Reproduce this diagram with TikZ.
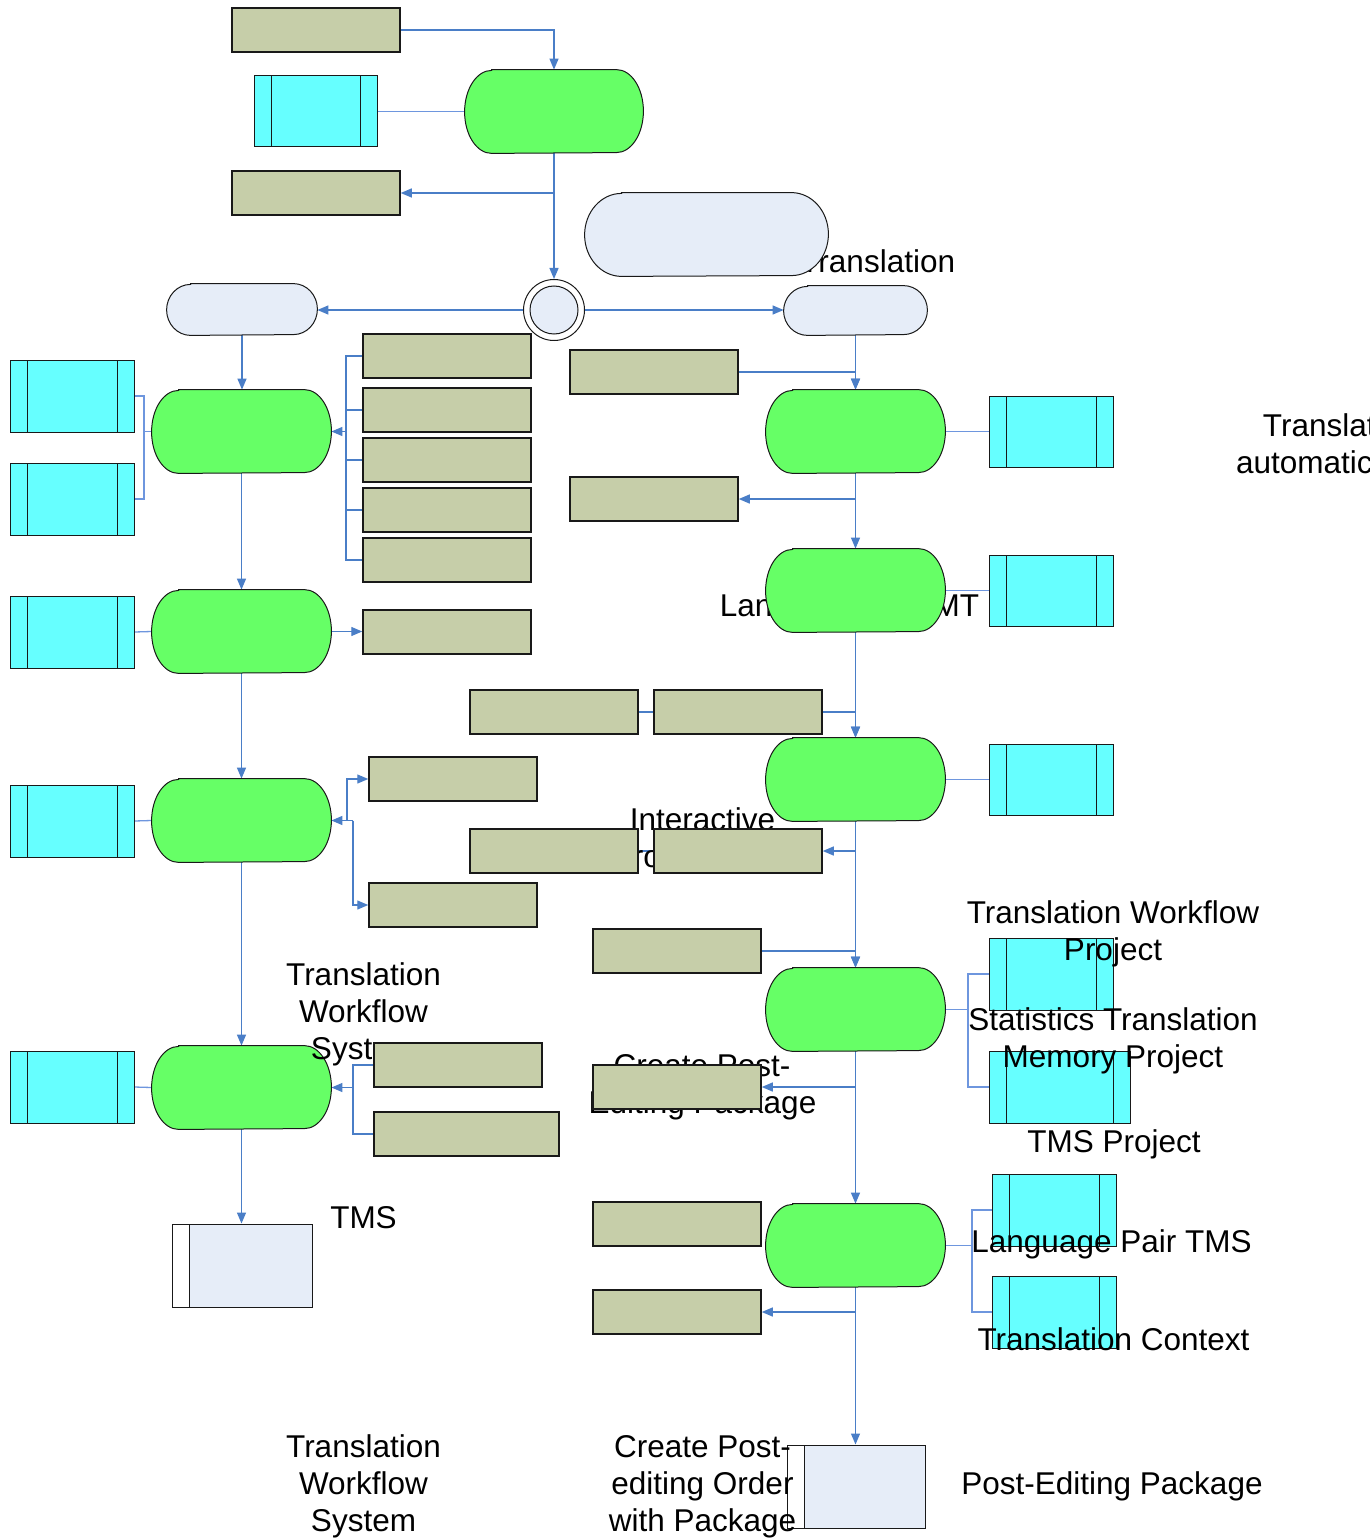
\documentclass[tikz,border=0pt]{standalone}
\usepackage{fontspec}
\setmainfont{Liberation Sans}
\usetikzlibrary{arrows.meta,fit,backgrounds}

\definecolor{tanfill}{RGB}{198,206,169}
\definecolor{cyanfill}{RGB}{102,255,255}
\definecolor{greenfill}{RGB}{102,255,102}
\definecolor{palefill}{RGB}{230,237,248}
\definecolor{outl}{RGB}{25,25,25}
\definecolor{connblue}{RGB}{74,126,199}
\definecolor{linkblue}{RGB}{110,150,222}

\tikzset{
  tanbox/.style={rectangle, draw=outl, line width=0.75pt, fill=tanfill, inner sep=0pt},
  cyanbox/.style={rectangle, draw=outl, line width=0.5pt, fill=cyanfill, inner sep=0pt,
    path picture={\draw[outl, line width=0.5pt]
      ([xshift=8.5pt]path picture bounding box.north west) -- ([xshift=8.5pt]path picture bounding box.south west)
      ([xshift=-8.5pt]path picture bounding box.north east) -- ([xshift=-8.5pt]path picture bounding box.south east);}},
  docbox/.style={rectangle, draw=outl, line width=0.5pt, fill=palefill, inner sep=0pt,
    path picture={\fill[white] (path picture bounding box.north west) rectangle ([xshift=8.5pt]path picture bounding box.south west);
      \draw[outl, line width=0.5pt] ([xshift=8.5pt]path picture bounding box.north west) -- ([xshift=8.5pt]path picture bounding box.south west);}},
  greenshape/.style={draw=outl, line width=0.5pt, fill=greenfill},
  paleshape/.style={draw=outl, line width=0.5pt, fill=palefill},
  conn/.style={draw=connblue, line width=0.65pt},
  arr/.style={conn, -{Triangle[length=5.5pt,width=4.5pt]}},
  link/.style={draw=linkblue, line width=0.65pt},
  lbl/.style={font=\fontsize{15.75pt}{18.5pt}\selectfont, inner sep=0pt, anchor=base},
}

% rectangular node given by its corners: style, name, x1, y1, x2, y2
\newcommand\rectnode[6]{\node[#1, fit={(#3,#4) (#5,#6)}] (#2) {};}
% process shape with elliptical ends: style, name, x1, y1, x2, y2, end radius
\newcommand\stadium[7]{%
  \node[inner sep=0pt, fit={(#3,#4) (#5,#6)}] (#2) {};
  \path[#1] ([xshift=#7*0.5pt]#2.north west) -- ([xshift=-#7*0.5pt]#2.north east)
    arc[start angle=90, end angle=-90, x radius=#7*0.5pt, y radius=(#6-#4)*0.25pt]
    -- ([xshift=#7*0.5pt]#2.south west)
    arc[start angle=270, end angle=90, x radius=#7*0.5pt, y radius=(#6-#4)*0.25pt] -- cycle;}

\begin{document}
\begin{tikzpicture}[x=0.5pt, y=-0.5pt]
\useasboundingbox (0,0) rectangle (1369,1540);
\clip (0,0) rectangle (1369,1540);

% ---- shapes, first group ----
\rectnode{tanbox}{T1}{232}{8}{400}{52}
\rectnode{cyanbox}{C1}{254}{76}{377}{147}
\stadium{greenshape}{G1}{465}{70}{643}{153}{27}
\rectnode{tanbox}{T2}{232}{171}{400}{215}
\node[circle, draw=outl, line width=0.5pt, fill=white, minimum size=30.5pt, inner sep=0pt] (J) at (554,310) {};
\node[circle, draw=outl, line width=0.5pt, fill=palefill, minimum size=24pt, inner sep=0pt] (Jin) at (J) {};
\stadium{paleshape}{LP}{167}{284}{317}{335}{24}

\rectnode{cyanbox}{C2}{10}{360}{134}{432}
\rectnode{cyanbox}{C3}{10}{463}{134}{535}
\stadium{greenshape}{G2}{152}{390}{331}{473}{27}
\rectnode{tanbox}{T3}{363}{334}{531}{378}
\rectnode{tanbox}{T4}{363}{388}{531}{432}
\rectnode{tanbox}{T5}{363}{438}{531}{482}
\rectnode{tanbox}{T6}{363}{488}{531}{532}
\rectnode{tanbox}{T7}{363}{538}{531}{582}

\rectnode{tanbox}{T8}{570}{350}{738}{394}
\stadium{greenshape}{G3}{766}{390}{945}{473}{27}
\rectnode{cyanbox}{C4}{989}{396}{1113}{467}
\rectnode{tanbox}{T9}{570}{477}{738}{521}
\rectnode{cyanbox}{C5}{989}{555}{1113}{626}
\rectnode{tanbox}{T10}{470}{690}{638}{734}
\rectnode{tanbox}{T11}{654}{690}{822}{734}
\stadium{greenshape}{G5}{766}{738}{945}{821}{27}
\rectnode{cyanbox}{C6}{989}{744}{1113}{815}
\rectnode{tanbox}{T14}{593}{929}{761}{973}
\stadium{greenshape}{G6}{766}{968}{945}{1051}{27}
\rectnode{cyanbox}{C7}{989}{938}{1113}{1010}
\rectnode{cyanbox}{C8}{989}{1051}{1130}{1123}
\stadium{greenshape}{G7}{766}{1204}{945}{1287}{27}
\rectnode{tanbox}{T16}{593}{1202}{761}{1246}
\rectnode{tanbox}{T17}{593}{1290}{761}{1334}
\rectnode{cyanbox}{C9}{992}{1174}{1116}{1246}
\rectnode{cyanbox}{C10}{992}{1276}{1116}{1348}
\rectnode{docbox}{PK}{787}{1445}{925}{1528}

\rectnode{cyanbox}{C11}{10}{596}{134}{668}
\stadium{greenshape}{G8}{152}{590}{331}{673}{27}
\rectnode{tanbox}{T18}{363}{610}{531}{654}
\rectnode{cyanbox}{C12}{10}{785}{134}{857}
\stadium{greenshape}{G9}{152}{779}{331}{862}{27}
\rectnode{tanbox}{T19}{369}{757}{537}{801}
\rectnode{tanbox}{T20}{369}{883}{537}{927}
\rectnode{cyanbox}{C13}{10}{1051}{134}{1123}
\stadium{greenshape}{G10}{152}{1046}{331}{1129}{27}
\rectnode{tanbox}{T22}{374}{1112}{559}{1156}
\rectnode{docbox}{TM}{172}{1224}{312}{1307}

% ---- labels lying under shapes ----
\node[lbl, anchor=base west] (tA) at (800,273) {Translation};
\node[lbl] (tB1) at (1328,436) {Translate};
\node[lbl] (tB2) at (1328,473) {automatically};
\node[lbl] (tC) at (849.5,616) {Language Pair MT};
\node[lbl] (tD1) at (702.5,830) {Interactive};
\node[lbl] (tD2) at (702,867) {Proofreading};
\node[lbl] (tJ1) at (363.5,985) {Translation};
\node[lbl] (tJ2) at (363.5,1022) {Workflow};
\node[lbl] (tJ3) at (363.5,1059) {System};
\node[lbl] (tK1) at (702,1076) {Create Post-};
\node[lbl] (tK2) at (702.5,1113) {Editing Package};

% ---- shapes, second group ----
\stadium{paleshape}{BP}{585}{193}{828}{276}{37}
\stadium{paleshape}{RP}{784}{286}{927}{335}{24}
\stadium{greenshape}{G4}{766}{549}{945}{632}{27}
\rectnode{tanbox}{T12}{470}{829}{638}{873}
\rectnode{tanbox}{T13}{654}{829}{822}{873}
\rectnode{tanbox}{T21}{374}{1043}{542}{1087}
\rectnode{tanbox}{T15}{593}{1065}{761}{1109}

% ---- labels on top ----
\node[lbl] (tE1) at (1113,923) {Translation Workflow};
\node[lbl] (tE2) at (1113,960) {Project};
\node[lbl] (tF1) at (1113,1030) {Statistics Translation};
\node[lbl] (tF2) at (1113,1067) {Memory Project};
\node[lbl] (tG) at (1114,1152) {TMS Project};
\node[lbl] (tH) at (1111.5,1252) {Language Pair TMS};
\node[lbl] (tI) at (1113.5,1350) {Translation Context};
\node[lbl] (tL) at (363.5,1228) {TMS};
\node[lbl] (tM1) at (363.5,1457) {Translation};
\node[lbl] (tM2) at (363.5,1494) {Workflow};
\node[lbl] (tM3) at (363.5,1531) {System};
\node[lbl] (tN1) at (702.5,1457) {Create Post-};
\node[lbl] (tN2) at (702.5,1494) {editing Order};
\node[lbl] (tN3) at (702.5,1531) {with Package};
\node[lbl] (tO) at (1112,1494) {Post-Editing Package};

% ---- connectors, kept beneath the shapes ----
\begin{scope}[on background layer]
\fill[white] (0,0) rectangle (1369,1540);
\coordinate (kL2) at (144,431.5);
\coordinate (kR2) at (346,431.5);
\coordinate (kG6) at (968,1009.5);
\coordinate (kG7) at (972,1245.5);
\coordinate (kG9a) at (347,820.5);
\coordinate (kG9b) at (353,820.5);
\coordinate (kG10) at (353,1087.5);

\draw[arr] (T1.east) -| (G1.north);
\draw[link] (C1.east) -- (G1.west);
\draw[arr] (G1.south) |- (T2.east);
\draw[arr] (G1.south) -- (J.north);
\draw[arr] (J.west) -- (J.west -| LP.east);
\draw[arr] (J.east) -- (J.east -| RP.west);

\draw[arr] (LP.south) -- (LP.south |- G2.north);
\draw[link] (C2.east) -| (kL2) -- (G2.west);
\draw[link] (C3.east) -| (kL2);
\draw[conn] (T3.west) -| (kR2);
\draw[conn] (T4.west) -| (kR2);
\draw[conn] (T5.west) -| (kR2);
\draw[conn] (T6.west) -| (kR2);
\draw[conn] (T7.west) -| (kR2);
\draw[arr] (kR2) -- (G2.east);

\draw[arr] (T8.east) -| (G3.north);
\draw[arr] (RP.south) -- (RP.south |- G3.north);
\draw[link] (G3.east) -- (C4.west);
\draw[arr] (G3.south) |- (T9.east);
\draw[arr] (G3.south) -- (G4.north);
\draw[link] (G4.east) -- (C5.west);
\draw[arr] (G4.south) -- (G5.north);
\draw[conn] (T10.east) -- (T11.west);
\draw[arr] (T11.east) -| (G5.north);
\draw[link] (G5.east) -- (C6.west);
\draw[arr] (G5.south) |- (T13.east);
\draw[conn] (T12.east) -- (T13.west);
\draw[arr] (G5.south) -- (G6.north);
\draw[arr] (T14.east) -| (G6.north);
\draw[link] (G6.east) -- (kG6) |- (C7.west);
\draw[link] (kG6) |- (C8.west);
\draw[arr] (G6.south) |- (T15.east);
\draw[arr] (G6.south) -- (G7.north);
\draw[link] (G7.east) -- (kG7) |- (C9.west);
\draw[link] (kG7) |- (C10.west);
\draw[arr] (G7.south) |- (T17.east);
\draw[arr] (G7.south) -- (G7.south |- PK.north);

\draw[arr] (G2.south) -- (G8.north);
\draw[link] (C11.east) -- (G8.west);
\draw[arr] (G8.east) -- (G8.east -| T18.west);
\draw[arr] (G8.south) -- (G9.north);
\draw[link] (C12.east) -- (G9.west);
\draw[arr] (kG9a) |- (T19.west);
\draw[arr] (kG9b) |- (T20.west);
\draw[arr] (kG9b) -- (G9.east);
\draw[arr] (G9.south) -- (G10.north);
\draw[link] (C13.east) -- (G10.west);
\draw[conn] (T21.west) -| (kG10);
\draw[conn] (T22.west) -| (kG10);
\draw[arr] (kG10) -- (G10.east);
\draw[arr] (G10.south) -- (G10.south |- TM.north);
\end{scope}
\end{tikzpicture}
\end{document}
